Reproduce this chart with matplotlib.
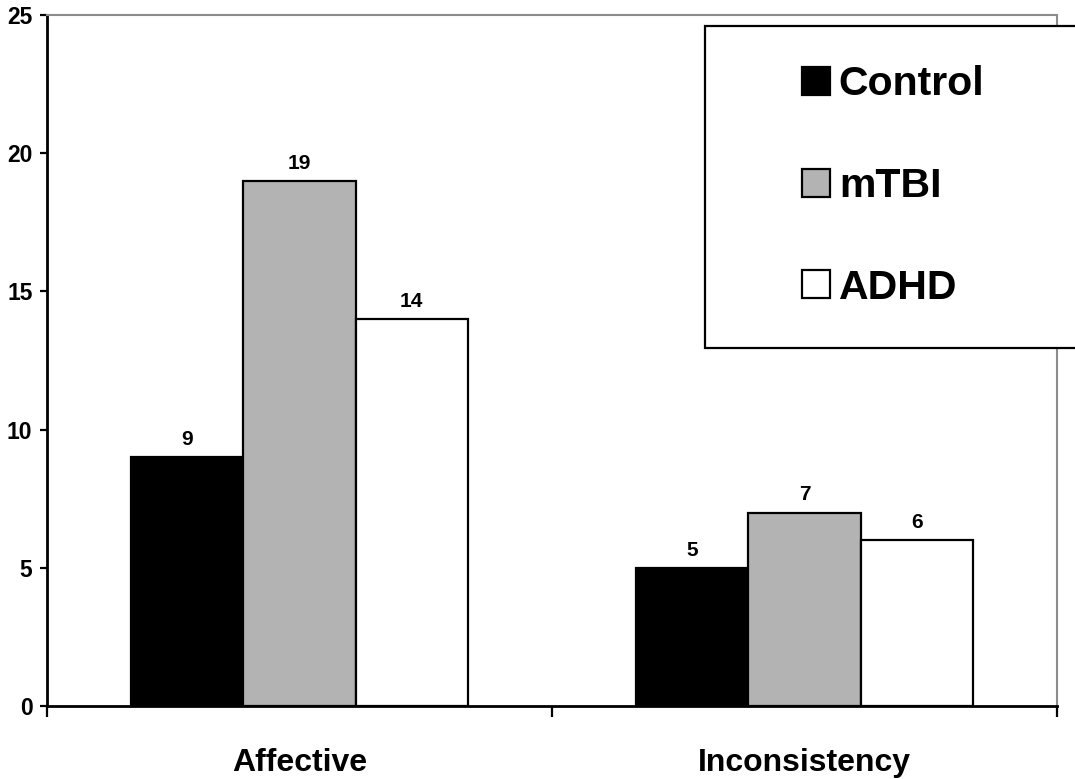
import numpy as np
import matplotlib.pyplot as plt
from matplotlib.patches import Rectangle, Patch

plt.rcParams['font.family'] = ['Liberation Sans', 'DejaVu Sans']
plt.rcParams['font.weight'] = 'bold'

categories = ['Affective', 'Inconsistency']
groups = ['Control', 'mTBI', 'ADHD']
control = [9, 5]
mtbi = [19, 7]
adhd = [14, 6]
colors = ['black', '#b3b3b3', 'white']

fig = plt.figure(figsize=(10.75, 7.79), dpi=100)
ax = fig.add_axes([47 / 1075, 1 - 706 / 779, 1010 / 1075, 691 / 779])

x = np.arange(len(categories))
w = 0.222
for i, (vals, col) in enumerate(zip([control, mtbi, adhd], colors)):
    xs = x + (i - 1) * w
    ax.bar(xs, vals, width=w, color=col, edgecolor='black', linewidth=1.6, zorder=3)
    for xi, v in zip(xs, vals):
        ax.text(xi, v + 0.3, str(v), ha='center', va='bottom', fontsize=15, fontweight='bold')

ax.set_xlim(-0.5, 1.5)
ax.set_ylim(0, 25)
ax.set_yticks([0, 5, 10, 15, 20, 25])
ax.tick_params(axis='y', labelsize=16.5, length=5, width=1.6, direction='out', pad=5.5)
ax.set_xticks([-0.5, 0.5, 1.5])
ax.set_xticklabels([])
ax.tick_params(axis='x', which='major', length=8, width=1.6, direction='out')
ax.set_xticks(x, minor=True)
ax.set_xticklabels(categories, minor=True, fontsize=23, fontweight='bold')
ax.tick_params(axis='x', which='minor', length=0, pad=30.5)

for s in ['left', 'bottom']:
    ax.spines[s].set_linewidth(2.0)
for s in ['top', 'right']:
    ax.spines[s].set_color('#8c8c8c')
    ax.spines[s].set_linewidth(1.5)

# legend box
fig.patches.append(Rectangle((705 / 1075, 1 - 348 / 779), 372 / 1075, 322 / 779,
                             transform=fig.transFigure, facecolor='white',
                             edgecolor='black', linewidth=1.6, zorder=5))
handles = [Patch(facecolor=c, edgecolor='black', linewidth=1.6) for c in colors]
leg = fig.legend(handles, groups, loc='center left',
                 bbox_to_anchor=(802 / 1075, 1 - 186 / 779),
                 frameon=False, fontsize=29.5, handlelength=0.68, handleheight=0.68,
                 handletextpad=0.22, labelspacing=1.55, borderpad=0, borderaxespad=0)
leg.set_zorder(6)
for t in leg.get_texts():
    t.set_fontweight('bold')

fig.savefig('out.png', dpi=100)
